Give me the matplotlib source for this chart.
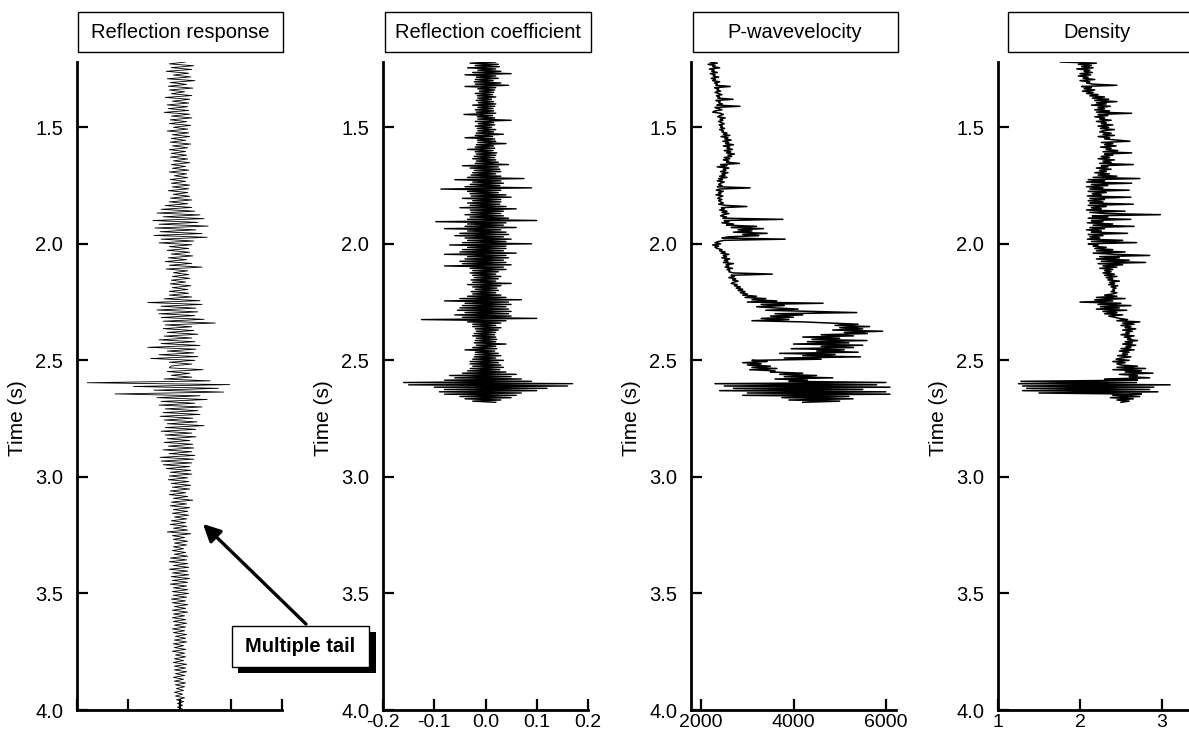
import numpy as np
import matplotlib.pyplot as plt
from matplotlib.patches import Rectangle, FancyArrowPatch

plt.rcParams['font.family'] = ['Liberation Sans', 'DejaVu Sans']
plt.rcParams['axes.unicode_minus'] = False

W, H = 1189, 735

# ── Traces (time in s, regular sampling) ─────────────────────────────────────
resp_t0, resp_dt = 1.22, 0.008      # synthetic reflection response
log_t0, log_dt = 1.22, 0.005        # log-derived traces

resp = [
    .06, -.10, .14, -.08, .12, -.13, .09, -.06, .11, -.12, .15, -.09, .07, -.11, .13, -.10, .05, -.08, .12, -.14, .10, -.07, .09, -.12, .08,
    -.11, .09, -.15, .10, -.08, .12, -.09, .07, -.10, .11, -.06, .08, -.12, .09, -.07, .10, -.08, .06, -.09, .11, -.07, .08, -.10, .06, -.08,
    .07, -.09, .08, -.06, .10, -.08, .06, -.07, .09, -.10, .07, -.05, .08, -.09, .06, -.08, .10, -.07, .09, -.11, .08, -.06, .10, -.09, .12,
    -.10, .08, -.14, .12, -.18, .15, -.22, .20, -.16, .24, -.26, .18, -.20, .28, -.24, .16, -.19, .22, -.25, .27, -.18, .14, -.20, .12, -.10,
    .09, -.12, .10, -.08, .13, -.11, .07, -.14, .12, -.10, .22, -.13, .08, -.06, .09, -.07, .10, -.08, .06, -.09, .11, -.07, .08, -.10, .09,
    -.10, .12, -.15, .20, -.31, .22, -.18, .16, -.22, .18, -.20, .15, -.18, .24, -.16, .35, -.14, .12, -.16, .14, -.12, .18, -.15, .12, -.20,
    .15, -.18, .20, -.31, .16, -.12, .14, -.20, .18, -.28, .15, -.10, .12, -.08, -.10, .23, -.12, .10, -.08, .12, -.15, .30, -.90, .49, -.45,
    .38, -.25, .43, -.63, .20, -.22, .27, -.18, .15, -.20, .22, -.14, .18, -.16, .20, -.19, .13, -.15, .17, -.12, .24, -.14, .16, -.18, .12,
    -.14, .16, -.12, .10, -.15, .13, -.11, .14, -.16, .12, -.10, .15, -.19, .14, -.18, .12, -.16, .10, -.13, .11, -.09, .12, -.10, .08, -.11,
    .09, -.08, .11, -.07, .10, -.09, .06, -.10, .08, -.06, .13, -.08, .07, -.09, .10, -.06, .08, -.07, .09, -.05, .07, -.08, .06, -.09, .07,
    -.06, .08, -.12, .11, -.07, .05, -.06, .08, -.05, .07, -.06, .04, -.07, .06, -.05, .08, -.09, .07, -.10, .08, -.06, .09, -.10, .08, -.07,
    .09, -.08, .10, -.07, .08, -.09, .07, -.06, .08, -.07, .09, -.06, .07, -.08, .06, -.07, .08, -.05, .06, -.07, .08, -.06, .05, -.07, .06,
    -.06, .07, -.05, .06, -.07, .05, -.06, .07, -.04, .06, -.05, .07, -.06, .04, -.05, .06, -.07, .05, -.04, .06, -.05, .04, -.06, .07, -.05,
    .06, -.05, .07, -.04, .05, -.06, .04, -.05, .06, -.04, .05, -.03, .04, -.05, .03, -.04, .05, -.03, .04, -.02, .03, -.02, .03,
]

refl_coef = [
    .02, -.03, .025, -.02, .027, -.035, .02, -.015, .03, -.025, .05, -.04, .02, -.018, .025, -.02, .015, -.022, .03, -.02,
    .045, -.04, .02, -.015, .018, -.012, .016, -.02, .014, -.016, .02, -.015, .012, -.018, .016, -.014, .02, -.025, .018, -.015,
    .015, -.02, .016, -.018, .02, -.042, .014, -.016, .018, -.015, .05, -.02, .016, -.014, .018, -.02, .012, -.016, .02, -.015,
    .016, -.018, .035, -.02, .014, -.04, .018, -.016, .02, -.015, .04, -.018, .016, -.02, .018, -.035, .015, -.02, .022, -.018,
    .02, -.022, .018, -.025, .02, -.018, .025, -.02, .045, -.045, .025, -.03, .028, -.022, .03, -.025, .02, -.028, .03, -.035,
    .075, -.06, .03, -.025, .035, -.03, .028, -.04, .09, -.087, .03, -.035, .025, -.03, .04, -.028, .05, -.045, .03, -.025,
    .03, -.035, .028, -.03, .04, -.05, .06, -.03, .035, -.028, .03, -.04, .035, -.03, .045, -.035, .10, -.097, .04, -.035,
    .035, -.04, .06, -.08, .03, -.035, .04, -.05, .045, -.06, .035, -.04, .05, -.035, .04, -.045, .09, -.07, .04, -.035,
    .04, -.045, .035, -.05, .06, -.08, .04, -.035, .045, -.04, .035, -.05, .04, -.045, .05, -.08, .035, -.03, .04, -.025,
    .025, -.03, .02, -.025, .03, -.022, .025, -.028, .02, -.025, .05, -.035, .03, -.025, .022, -.02, .025, -.028, .02, -.025,
    .03, -.035, .04, -.05, .07, -.08, .045, -.04, .05, -.045, .04, -.05, .045, -.055, .05, -.04, .045, -.06, .05, -.045,
    .10, -.125, .04, -.035, .03, -.025, .02, -.025, .03, -.02, .025, -.018, .02, -.022, .018, -.025, .02, -.018, .022, -.02,
    .02, -.022, .04, -.018, .02, -.025, .022, -.04, .018, -.02, .025, -.02, .03, -.022, .02, -.025, .035, -.03, .025, -.03,
    .03, -.025, .035, -.03, .028, -.035, .04, -.045, .06, -.07, .05, -.06, .07, -.08, .09, -.16, .17, -.15, .16, -.10,
    .12, -.08, .10, -.09, .07, -.08, .06, -.05, .05, -.04, .03, -.025, .02,
]

vp = [
    2200, 2350, 2150, 2300, 2250, 2400, 2180, 2280, 2230, 2350, 2200, 2300, 2260, 2380, 2220, 2310, 2250, 2400, 2290, 2350,
    2320, 2630, 2290, 2380, 2340, 2420, 2300, 2370, 2450, 2330, 2400, 2360, 2690, 2320, 2410, 2380, 2460, 2340, 2840, 2300,
    2380, 2450, 2300, 2250, 2420, 2480, 2400, 2360, 2520, 2410, 2470, 2380, 2440, 2500, 2390, 2460, 2420, 2510, 2400, 2480,
    2450, 2560, 2480, 2620, 2430, 2580, 2510, 2650, 2470, 2600, 2530, 2700, 2480, 2620, 2560, 2680, 2500, 2640, 2550, 2720,
    2580, 2660, 2500, 2620, 2480, 2600, 2550, 2830, 2420, 2560, 2350, 2600, 2480, 2530, 2420, 2580, 2450, 2520, 2400, 2560,
    2380, 2460, 2350, 2500, 2420, 2380, 2450, 2350, 3060, 2400, 2330, 2480, 2380, 2430, 2320, 2470, 2400, 2360, 2450, 2380,
    2420, 2480, 2380, 2520, 2990, 2440, 2500, 2400, 2560, 2450, 2600, 2480, 2420, 2550, 2470, 3770, 2500, 2600, 2450, 2700,
    2550, 3200, 2650, 3350, 2800, 3100, 2700, 3430, 2900, 3250, 2600, 2450, 3820, 2500, 2380, 2300, 2420, 2250, 2380, 2300,
    2350, 2450, 2400, 2520, 2430, 2600, 2480, 2550, 2450, 2620, 2500, 2580, 2480, 2700, 2540, 2600, 2520, 2680, 2560, 2620,
    2600, 2700, 3540, 2650, 2720, 2600, 2750, 2680, 2800, 2700, 2650, 2780, 2720, 2850, 2760, 2900, 2800, 2950, 2850, 3000,
    2900, 3200, 2950, 3400, 3100, 3640, 3000, 4640, 3300, 3800, 3200, 3600, 4100, 3400, 4360, 5370, 3600, 4200, 3500, 4000,
    3300, 3900, 3100, 4200, 4800, 5400, 4900, 5650, 5000, 5500, 4850, 5930, 5100, 5600, 4600, 5300, 4200, 5000, 4400, 5590,
    4300, 5200, 4000, 5500, 4600, 5300, 3950, 5100, 4500, 5400, 3700, 4900, 4200, 5450, 3800, 4600, 3100, 3430, 2900, 3300,
    3000, 3500, 3100, 3640, 3050, 3600, 3500, 4200, 3700, 4500, 3800, 4850, 3600, 4300, 3900, 6000, 2300, 5800, 2500, 6090,
    2700, 5500, 2400, 6000, 3000, 6090, 2900, 5200, 3750, 5290, 3900, 5000, 4200,
]

rho = [
    1.76, 2.20, 1.98, 2.14, 2.02, 2.16, 1.96, 2.12, 2.05, 2.15, 2.00, 2.13, 1.98, 2.10, 2.04, 2.18, 2.00, 2.12, 2.08, 2.16,
    2.45, 2.02, 2.14, 2.05, 2.18, 2.03, 2.16, 2.08, 2.22, 2.12, 2.30, 2.15, 2.35, 2.18, 2.45, 2.20, 2.32, 2.14, 2.37, 2.22,
    2.30, 2.18, 2.36, 2.20, 2.63, 2.22, 2.34, 2.18, 2.30, 2.24, 2.38, 2.20, 2.32, 2.26, 2.40, 2.22, 2.35, 2.25, 2.42, 2.28,
    2.24, 2.38, 2.28, 2.42, 2.22, 2.36, 2.30, 2.45, 2.61, 2.26, 2.40, 2.30, 2.44, 2.25, 2.38, 2.32, 2.46, 2.28, 2.63, 2.30,
    2.40, 2.26, 2.36, 2.22, 2.42, 2.28, 2.38, 2.24, 2.65, 2.26, 2.34, 2.20, 2.38, 2.24, 2.32, 2.18, 2.36, 2.22, 2.45, 2.16,
    2.73, 2.10, 2.30, 2.08, 2.63, 2.14, 2.34, 2.08, 2.28, 2.12, 2.60, 2.10, 2.32, 2.15, 2.26, 2.09, 2.62, 2.12, 2.30, 2.10,
    2.28, 2.12, 2.65, 2.10, 2.32, 2.14, 2.26, 2.08, 2.55, 2.12, 2.30, 2.98, 2.15, 2.34, 2.10, 2.62, 2.14, 2.28, 2.09, 2.40,
    2.16, 2.66, 2.12, 2.30, 2.08, 2.26, 2.14, 2.58, 2.10, 2.28, 2.12, 2.24, 2.09, 2.52, 2.14, 2.69, 2.10, 2.22, 2.16, 2.32,
    2.18, 2.40, 2.20, 2.55, 2.16, 2.42, 2.85, 2.24, 2.48, 2.20, 2.60, 2.26, 2.80, 2.22, 2.52, 2.28, 2.45, 2.24, 2.40, 2.30,
    2.38, 2.28, 2.42, 2.30, 2.45, 2.32, 2.40, 2.34, 2.48, 2.36, 2.42, 2.35, 2.46, 2.38, 2.44, 2.40, 2.42, 2.38, 2.45, 2.40,
    2.30, 2.45, 2.20, 2.55, 2.18, 2.40, 2.00, 2.50, 2.22, 2.62, 2.25, 2.48, 2.20, 2.57, 2.28, 2.45, 2.30, 2.52, 2.35, 2.42,
    2.48, 2.58, 2.45, 2.73, 2.52, 2.66, 2.50, 2.62, 2.55, 2.68, 2.52, 2.64, 2.56, 2.60, 2.50, 2.66, 2.54, 2.62, 2.58, 2.70,
    2.55, 2.64, 2.52, 2.68, 2.56, 2.62, 2.50, 2.66, 2.48, 2.60, 2.52, 2.58, 2.46, 2.62, 2.50, 2.44, 2.60, 2.40, 2.55, 2.45,
    2.50, 2.70, 2.45, 2.80, 2.40, 2.75, 2.55, 2.89, 2.48, 2.70, 2.60, 2.85, 2.30, 2.70, 1.28, 2.69, 1.25, 3.10, 1.30, 2.90,
    1.35, 2.85, 1.30, 2.95, 1.50, 2.75, 2.40, 2.73, 2.37, 2.65, 2.45, 2.60, 2.50,
]

panel_titles = ['Reflection response', 'Reflection coefficient', 'P-wavevelocity', 'Density']
time_ticks = [1.5, 2.0, 2.5, 3.0, 3.5, 4.0]


def fx(x):
    return x / W


def fy(y):
    return 1 - y / H


fig = plt.figure(figsize=(W / 100, H / 100), dpi=100)

# axes placed in pixel coordinates (left, right); last one runs off the page
lefts = [77, 383, 691, 998]
ax_w, ax_top, ax_bot = 205, 62, 710
axes = [fig.add_axes([fx(l), fy(ax_bot), ax_w / W, (ax_bot - ax_top) / H]) for l in lefts]

t_resp = resp_t0 + resp_dt * np.arange(len(resp))
axes[0].plot(resp, t_resp, color='black', lw=0.6)
axes[0].set_xlim(-1, 1)
axes[0].set_xticks([-1, -0.5, 0, 0.5, 1])
axes[0].set_xticklabels([])

t_rc = log_t0 + log_dt * np.arange(len(refl_coef))
axes[1].plot(refl_coef, t_rc, color='black', lw=1.0)
axes[1].set_xlim(-0.2, 0.2)
axes[1].set_xticks([-0.2, -0.1, 0.0, 0.1, 0.2])
axes[1].set_xticklabels(['-0.2', '-0.1', '0.0', '0.1', '0.2'])

t_vp = log_t0 + log_dt * np.arange(len(vp))
axes[2].plot(vp, t_vp, color='black', lw=1.1)
axes[2].set_xlim(1780, 6220)
axes[2].set_xticks([2000, 4000, 6000])

t_rho = log_t0 + log_dt * np.arange(len(rho))
axes[3].plot(rho, t_rho, color='black', lw=1.1)
axes[3].set_xlim(1, 3.5)
axes[3].set_xticks([1, 2, 3])

for ax in axes:
    ax.set_ylim(4.0, 1.22)
    ax.set_yticks(time_ticks)
    ax.set_yticklabels([f'{v:.1f}' for v in time_ticks])
    for side in ('top', 'right'):
        ax.spines[side].set_visible(False)
    for side in ('left', 'bottom'):
        ax.spines[side].set_linewidth(2.0)
    ax.tick_params(direction='in', length=8, width=1.6, labelsize=14.5)
    ax.tick_params(axis='y', pad=10)
    ax.tick_params(axis='x', pad=3, labelsize=14)
    ax.set_ylabel('Time (s)', fontsize=15)
    ax.yaxis.set_label_coords(-50 / ax_w, (ax_bot - 418) / (ax_bot - ax_top))
    ax.patch.set_visible(False)

# boxed panel titles
title_boxes = [(78, 283), (385, 591), (693, 898), (1008, 1192)]
title_centres = [180, 488, 795, 1097]
for (x0, x1), xc, name in zip(title_boxes, title_centres, panel_titles):
    fig.add_artist(Rectangle((fx(x0), fy(52)), (x1 - x0) / W, 40 / H,
                             transform=fig.transFigure, fill=False, ec='black', lw=1.0))
    fig.text(fx(xc), fy(32), name, ha='center', va='center', fontsize=14.5)

# "Multiple tail" callout with drop shadow
fig.add_artist(FancyArrowPatch((fx(308), fy(626)), (fx(201), fy(522)),
                               transform=fig.transFigure, arrowstyle='-|>',
                               mutation_scale=26, lw=2.4, color='black'))
fig.add_artist(Rectangle((fx(238), fy(673)), 138 / W, 41 / H,
                         transform=fig.transFigure, fc='black', ec='black', lw=0))
fig.add_artist(Rectangle((fx(232), fy(667)), 137 / W, 41 / H,
                         transform=fig.transFigure, fc='white', ec='black', lw=1.0))
fig.text(fx(300.5), fy(646), 'Multiple tail', ha='center', va='center',
         fontsize=14.5, fontweight='bold')

fig.savefig('out.png', dpi=100)
